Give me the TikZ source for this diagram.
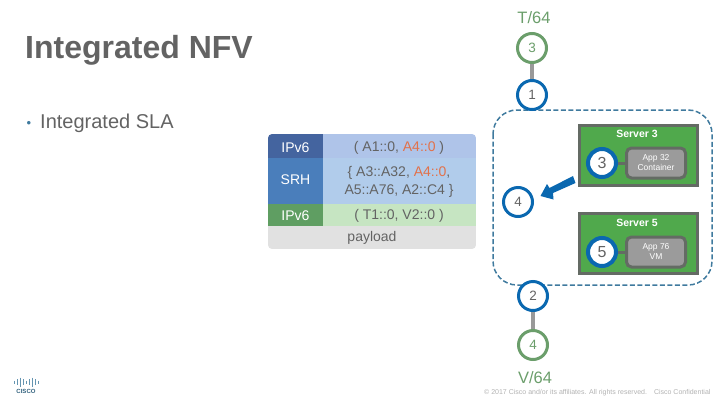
\documentclass[tikz,border=0pt]{standalone}
\usepackage{fontspec}
\setmainfont{Liberation Sans}
\definecolor{hopgreen}{HTML}{6B9E6B}
\definecolor{hopblue}{HTML}{0A68B0}
\definecolor{dashblue}{HTML}{3F7A9E}
\definecolor{servergreen}{HTML}{50A94C}
\definecolor{boxgray}{HTML}{646B64}
\definecolor{appgray}{HTML}{9B9B9B}
\definecolor{textgray}{HTML}{636363}
\definecolor{cellblue}{HTML}{44649F}
\definecolor{cellblueb}{HTML}{AFC4E9}
\definecolor{cellsrh}{HTML}{4A7EBB}
\definecolor{cellsrhb}{HTML}{B1CCEB}
\definecolor{cellgreen}{HTML}{5F9E62}
\definecolor{cellgreenb}{HTML}{C6E5C2}
\definecolor{cellpay}{HTML}{E1E1E1}
\definecolor{redaddr}{HTML}{E2714A}
\tikzset{
	hop/.style={circle, draw=#1, line width=3pt, fill=white, minimum size=29pt, inner sep=0pt, font=\fontsize{13.5}{14}\selectfont},
	bighop/.style={circle, draw=hopblue, line width=4pt, fill=white, minimum size=28pt, inner sep=0pt, text=textgray, font=\fontsize{16}{16}\selectfont},
	server/.style={draw=boxgray, line width=3pt, fill=servergreen, minimum width=118pt, minimum height=60pt, inner sep=0pt},
	app/.style={draw=boxgray, line width=3pt, fill=appgray, rounded corners=5pt, minimum width=59pt, minimum height=30pt, inner sep=0pt, text=white, align=center, font=\fontsize{8.5}{10}\selectfont},
	servername/.style={text=white, font=\bfseries\fontsize{10.5}{10.5}\selectfont},
	cell/.style={minimum width=#1, inner sep=0pt, align=center, text=textgray, font=\fontsize{14}{18}\selectfont},
	head/.style={minimum width=55pt, inner sep=0pt, text=white, font=\fontsize{14}{14}\selectfont},
	link/.style={draw=#1, line width=4pt}
}
\begin{document}
\begin{tikzpicture}[x=1pt, y=-1pt]
	\useasboundingbox (0, 0) rectangle (720, 405);

	%%%%% title %%%%%
	\node[anchor=west, inner sep=0pt, text=textgray, font=\bfseries\fontsize{32}{32}\selectfont] (title) at (25, 50) {Integrated NFV};
	\node[anchor=west, inner sep=0pt, text=textgray, font=\fontsize{20}{20}\selectfont] (subtitle) at (40, 123) {Integrated SLA};
	\node[inner sep=0pt, text=dashblue, font=\fontsize{13}{13}\selectfont] (bullet) at (29, 124) {•};

	%%%%% header table %%%%%
	\begin{scope}
		\clip[rounded corners=4pt] (268, 134) rectangle (476, 249);
		\fill[cellblue] (268, 134) rectangle (323, 158);
		\fill[cellblueb] (323, 134) rectangle (476, 158);
		\fill[cellsrh] (268, 158) rectangle (323, 204);
		\fill[cellsrhb] (323, 158) rectangle (476, 204);
		\fill[cellgreen] (268, 204) rectangle (323, 226);
		\fill[cellgreenb] (323, 204) rectangle (476, 226);
		\fill[cellpay] (268, 226) rectangle (476, 249);
	\end{scope}
	\node[head] (ipa) at (295.5, 148) {IPv6};
	\node[head] (srh) at (295.5, 180) {SRH};
	\node[head] (ipb) at (295.5, 216) {IPv6};
	\node[cell=150pt] (ipaval) at (399, 148) {( A1::0, \textcolor{redaddr}{A4::0} )};
	\node[cell=150pt] (srhval) at (399, 182) {\{ A3::A32, \textcolor{redaddr}{A4::0}, \\ A5::A76, A2::C4 \}};
	\node[cell=150pt] (ipbval) at (399, 216) {( T1::0, V2::0 )};
	\node[cell=60pt] (payload) at (372, 238) {payload};

	%%%%% domain %%%%%
	\draw[dashblue, line width=1.5pt, dash pattern=on 5pt off 2.5pt, rounded corners=24pt] (493, 110) rectangle (712, 285);

	%%%%% servers %%%%%
	\node[server] (serverc) at (638, 155.5) {};
	\node[servername] (servercname) at (637, 134) {Server 3};
	\node[app] (appc) at (656, 163) {App 32\\Container};
	\node[bighop] (sidc) at (602, 163) {3};
	\draw[boxgray, line width=3pt] (sidc) -- (appc);

	\node[server] (servere) at (638, 243.5) {};
	\node[servername] (serverename) at (637, 223) {Server 5};
	\node[app] (appe) at (656, 252) {App 76\\VM};
	\node[bighop] (side) at (602, 252) {5};
	\draw[boxgray, line width=3pt] (side) -- (appe);

	%%%%% path %%%%%
	\node[hop=hopgreen, text=hopgreen] (hopt) at (532, 48) {3};
	\node[hop=hopblue, text=textgray] (hopa) at (532, 95) {1};
	\node[hop=hopblue, text=textgray] (hopb) at (533, 296) {2};
	\node[hop=hopgreen, text=hopgreen] (hopv) at (533, 345) {4};
	\node[hop=hopblue, text=textgray] (hopd) at (518, 202) {4};
	\draw[link=gray!80] (hopt) -- (hopa);
	\draw[link=gray!80] (hopb) -- (hopv);

	\node[text=hopgreen, inner sep=0pt, font=\fontsize{16.5}{16.5}\selectfont] (tlabel) at (534, 18) {T/64};
	\node[text=hopgreen, inner sep=0pt, font=\fontsize{16.5}{16.5}\selectfont] (vlabel) at (535, 378) {V/64};

	\fill[hopblue] (573, 176) -- (575.5, 183) -- (553, 193) -- (553.5, 199.5) -- (540.5, 196) -- (547, 184) -- (549.5, 188) -- cycle;

	%%%%% footer %%%%%
	\node[anchor=west, inner sep=0pt, text=gray!60, font=\fontsize{7}{7}\selectfont] (footer) at (484, 393) {© 2017 Cisco and/or its affiliates. All rights reserved.\quad Cisco Confidential};

	\foreach \x/\h in {14/1.5, 17/3, 20/4.5, 23/3, 26/1.5, 29/3, 32/4.5, 35/3, 38/1.5}
		\draw[dashblue!80, line width=0.9pt] (\x, 382 - \h) -- (\x, 382 + \h);
	\node[text=dashblue!80!black, inner sep=0pt, font=\bfseries\fontsize{6}{6}\selectfont] (logo) at (26, 391.5) {CISCO};
\end{tikzpicture}
\end{document}
